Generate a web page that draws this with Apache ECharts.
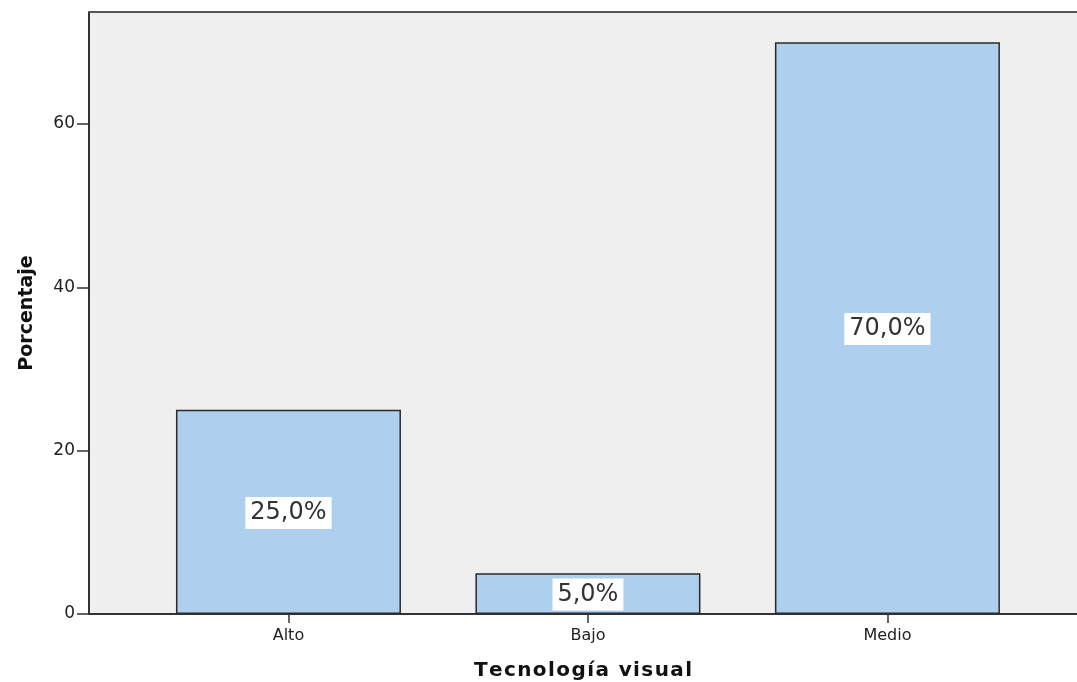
<!DOCTYPE html>
<html>
<head>
<meta charset="utf-8">
<script src="https://cdn.jsdelivr.net/npm/echarts@6/dist/echarts.min.js"></script>
<style>
  html, body { margin: 0; padding: 0; background: #ffffff; }
  #chart { width: 1077px; height: 682px; }
</style>
</head>
<body>
<div id="chart"></div>
<script>
// Nivel de tecnología visual (porcentaje)
const categories = ['Alto', 'Bajo', 'Medio'];
const percentages = [25.0, 5.0, 70.0];
const yTicks = [0, 20, 40, 60];
const xTitle = 'Tecnología visual';

const chart = echarts.init(document.getElementById('chart'));
const positions = categories.map((_, i) => i);
const FONT = 'DejaVu Sans, sans-serif';

// slightly spaced axis title: each character is its own rich-text token
const spacedTitle = Array.from(xTitle).map(ch => '{c|' + ch + '}').join('');

chart.setOption({
  animation: false,
  grid: {
    left: 89, top: 12, right: 0, bottom: 68,
    outerBoundsMode: 'none',
    containLabel: false,
    show: true,
    backgroundColor: '#efefef',
    borderWidth: 0
  },
  xAxis: {
    type: 'value',
    min: -0.666,
    max: 2.633,
    name: spacedTitle,
    nameLocation: 'middle',
    nameGap: 47,
    nameTextStyle: {
      rich: {
        c: {
          fontFamily: FONT,
          fontWeight: 'bold',
          fontSize: 20,
          color: '#111',
          padding: [0, 0.7]
        }
      }
    },
    splitLine: { show: false },
    axisLine: { show: true, onZero: false, lineStyle: { color: '#333', width: 2 } },
    axisTick: {
      show: true, length: 9, customValues: positions,
      lineStyle: { color: '#333', width: 1.5 }
    },
    axisLabel: {
      customValues: positions,
      formatter: v => categories[Math.round(v)],
      fontFamily: FONT,
      fontSize: 16,
      color: '#222',
      margin: 14
    }
  },
  yAxis: {
    type: 'value',
    min: 0,
    max: 73.7,
    name: 'Porcentaje',
    nameLocation: 'middle',
    nameGap: 52,
    nameTextStyle: {
      fontFamily: FONT,
      fontWeight: 'bold',
      fontSize: 19,
      color: '#111'
    },
    splitLine: { show: false },
    axisLine: { show: true, onZero: false, lineStyle: { color: '#333', width: 2 } },
    axisTick: {
      show: true, length: 12, customValues: yTicks,
      lineStyle: { color: '#333', width: 1.5 }
    },
    axisLabel: {
      customValues: yTicks,
      fontFamily: FONT,
      fontSize: 17,
      color: '#222',
      margin: 14
    }
  },
  graphic: [{
    type: 'line',
    shape: { x1: 89, y1: 12, x2: 1077, y2: 12 },
    style: { stroke: '#555', lineWidth: 2 },
    z: 10
  }],
  series: [{
    type: 'bar',
    barWidth: 225,
    data: percentages.map((v, i) => [i, v]),
    itemStyle: {
      color: '#aecfee',
      borderColor: '#2a2a2a',
      borderWidth: 1.5
    },
    label: {
      show: true,
      position: 'inside',
      offset: [0, 1],
      formatter: p => p.value[1].toFixed(1).replace('.', ',') + '%',
      fontFamily: FONT,
      fontSize: 24,
      color: '#333',
      backgroundColor: '#ffffff',
      padding: [4, 5, 4, 5]
    }
  }]
});
</script>
</body>
</html>
